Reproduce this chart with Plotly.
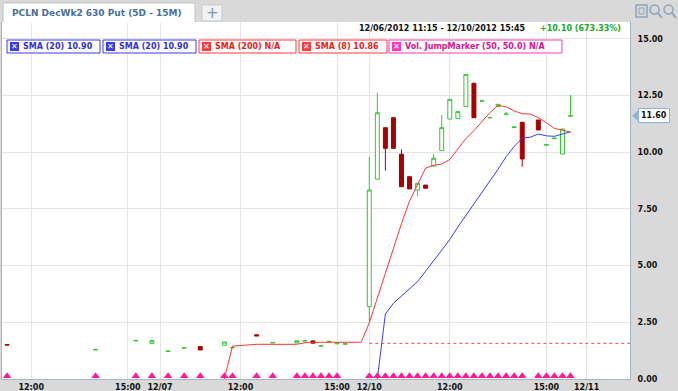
import plotly.graph_objects as go

# ---------------- data (bar index: 0 = 12/10 09:30, one unit = one 15-minute bar) ----------------
bar_x = [-45, -34, -29, -27, -25, -23, -21, -18, -17, -14, -12, -9, -8, -7, -6, -5, -4, -3,
         0, 1, 2, 3, 4, 5, 6, 7, 8, 9, 10, 11, 12, 13, 14, 15, 16, 17, 18, 19, 21, 22, 23, 24, 25]
opens = [1.52, 1.28, 1.68, 1.57, 1.21, 1.36, 1.43, 1.49, 1.37, 1.95, 1.59, 1.59, 1.67, 1.68, 1.45, 1.64, 1.55, 1.53,
         3.19, 8.81, 11.08, 11.52, 9.91, 8.92, 8.33, 8.55, 9.39, 10.07, 11.46, 11.49, 12.01, 13.04, 12.25, 11.51,
         12.01, 11.66, 11.09, 11.32, 11.42, 10.31, 10.60, 9.92, 11.59]
highs = [1.52, 1.30, 1.70, 1.69, 1.23, 1.38, 1.43, 1.63, 1.39, 1.95, 1.61, 1.69, 1.69, 1.68, 1.47, 1.66, 1.58, 1.56,
         9.80, 12.62, 11.08, 11.52, 10.13, 8.92, 8.63, 8.55, 9.92, 11.64, 12.33, 11.79, 13.43, 13.04, 12.27, 11.53,
         12.11, 11.78, 11.11, 11.32, 11.42, 10.33, 10.62, 11.02, 12.52]
lows = [1.50, 1.28, 1.68, 1.57, 1.21, 1.36, 1.28, 1.49, 1.37, 1.90, 1.59, 1.59, 1.67, 1.58, 1.45, 1.64, 1.55, 1.53,
        2.53, 8.81, 9.19, 10.17, 8.48, 8.38, 8.07, 8.41, 9.39, 10.07, 11.46, 11.49, 12.01, 11.52, 12.25, 11.51,
        12.01, 11.66, 11.09, 9.36, 10.98, 10.31, 10.60, 9.92, 11.59]
closes = [1.50, 1.30, 1.70, 1.69, 1.23, 1.38, 1.28, 1.63, 1.39, 1.90, 1.61, 1.69, 1.69, 1.58, 1.47, 1.66, 1.58, 1.56,
          8.33, 11.74, 10.17, 10.17, 8.48, 8.38, 8.63, 8.41, 9.73, 11.08, 12.33, 11.79, 13.43, 11.52, 12.27, 11.53,
          12.11, 11.68, 11.11, 9.70, 10.98, 10.33, 10.62, 11.02, 11.61]

sma8_x = [-18, -17, -14, -12, -9, -8, -7, -6, -5, -4, -3, -2, -1,
          0, 1, 2, 3, 4, 5, 6, 7, 8, 9, 10, 11, 12, 13, 14, 15, 16, 17, 18, 19, 20, 21, 22, 23, 24, 25]
sma8_y = [0.0, 1.45, 1.53, 1.53, 1.53, 1.60, 1.62, 1.62, 1.62, 1.62, 1.62, 1.62, 1.62,
          2.48, 3.60, 4.70, 5.80, 6.85, 7.85, 8.60, 9.30, 9.42, 9.48, 9.68, 10.15, 10.60, 10.95, 11.35, 11.75,
          12.06, 12.00, 11.82, 11.70, 11.68, 11.52, 11.30, 11.05, 10.97, 10.88]

sma20_x = [1, 2, 3, 4, 5, 6, 7, 8, 9, 10, 11, 12, 13, 14, 15, 16, 17, 18, 19, 20, 21, 22, 23, 24, 25]
sma20_y = [0.0, 2.87, 3.34, 3.65, 3.95, 4.30, 4.75, 5.20, 5.65, 6.15, 6.70, 7.20, 7.70, 8.20, 8.75,
           9.25, 9.80, 10.25, 10.62, 10.66, 10.80, 10.72, 10.70, 10.80, 10.90]

jump_x = [-45, -34, -29, -27, -25, -23, -21, -18, -17, -14, -12, -9, -8, -7, -6, -5, -4,
          0, 1, 2, 3, 4, 5, 6, 7, 8, 9, 10, 11, 12, 13, 14, 15, 16, 17, 18, 19, 21, 22, 23, 24, 25]

ref_level = 1.57
ref_x = [0, 32.4]

x_tickvals = [-42, -30, -26, -16, -4, 0, 10, 22, 27]
x_ticktext = ["12:00", "15:00", "12/07", "12:00", "15:00", "12/10", "12:00", "15:00", "12/11"]
y_tickvals = [0, 2.5, 5, 7.5, 10, 12.5, 15]
y_ticktext = ["0.00", "2.50", "5.00", "7.50", "10.00", "12.50", "15.00"]

last_price = 11.60

# ---------------- figure ----------------
W, H = 678, 391
ML, MR, MT, MB = 2, 48, 22, 12
XMIN, XMAX = -45.63, 32.39
YMIN, YMAX = 0.0, 15.74
FONT = "DejaVu Sans"


def px(x):
    return (x - ML) / (W - ML - MR)


def py(y):
    return (H - MB - y) / (H - MT - MB)


fig = go.Figure()

fig.add_trace(go.Candlestick(
    x=bar_x, open=opens, high=highs, low=lows, close=closes,
    increasing=dict(line=dict(color="#2ecc2e", width=1), fillcolor="white"),
    decreasing=dict(line=dict(color="#a80000", width=1), fillcolor="#a80000"),
    whiskerwidth=0, showlegend=False, hoverinfo="skip"))

fig.add_trace(go.Scatter(x=ref_x, y=[ref_level, ref_level], mode="lines",
                         line=dict(color="#ff4a4a", width=1, dash="dot"), showlegend=False, hoverinfo="skip"))
fig.add_trace(go.Scatter(x=sma8_x, y=sma8_y, mode="lines",
                         line=dict(color="#ff3535", width=1), showlegend=False, hoverinfo="skip"))
fig.add_trace(go.Scatter(x=sma20_x, y=sma20_y, mode="lines",
                         line=dict(color="#3a3aff", width=1), showlegend=False, hoverinfo="skip"))
fig.add_trace(go.Scatter(x=jump_x, y=[0.13] * len(jump_x), mode="markers",
                         marker=dict(symbol="triangle-up", size=7.5, color="#ff1a9c", line=dict(width=0)),
                         cliponaxis=False, showlegend=False, hoverinfo="skip"))

shapes = []
annotations = []

# tab
shapes.append(dict(type="rect", xref="paper", yref="paper", x0=px(3), x1=px(195), y0=py(23), y1=py(3),
                   fillcolor="white", line=dict(width=0), layer="above"))
shapes.append(dict(type="path", xref="paper", yref="paper",
                   path=f"M {px(3)},{py(22)} L {px(3)},{py(3)} L {px(195)},{py(3)} L {px(195)},{py(22)}",
                   line=dict(color="#b9c3cd", width=1), layer="above"))
annotations.append(dict(xref="paper", yref="paper", x=px(10), y=py(12.5), xanchor="left", yanchor="middle",
                        text="PCLN DecWk2 630 Put (5D - 15M)", showarrow=False,
                        font=dict(family=FONT, size=9, color="#46709c", weight="bold")))
shapes.append(dict(type="rect", xref="paper", yref="paper", x0=px(202), x1=px(222), y0=py(21), y1=py(5),
                   fillcolor="#f2f2f2", line=dict(color="#c3cbd3", width=1), layer="above"))
annotations.append(dict(xref="paper", yref="paper", x=px(212), y=py(13), xanchor="center", yanchor="middle",
                        text="+", showarrow=False, font=dict(family=FONT, size=15, color="#8197ad")))

# header
annotations.append(dict(xref="paper", yref="paper", x=px(357), y=py(28.5), xanchor="left", yanchor="middle",
                        text="12/06/2012 11:15 - 12/10/2012 15:45", showarrow=False,
                        font=dict(family=FONT, size=8, color="#111111", weight="bold")))
annotations.append(dict(xref="paper", yref="paper", x=px(538), y=py(28.5), xanchor="left", yanchor="middle",
                        text="+10.10 (673.33%)", showarrow=False,
                        font=dict(family=FONT, size=8, color="#22aa22", weight="bold")))

# indicator legend boxes
legend_items = [
    (7, 100, "SMA (20) 10.90", "#3a3aee", "#2f2fd0"),
    (103, 196, "SMA (20) 10.90", "#3a3aee", "#2f2fd0"),
    (199, 296, "SMA (200) N/A", "#ff3a3a", "#e82020"),
    (299, 387, "SMA (8) 10.86", "#ff3a3a", "#e82020"),
    (389, 562, "Vol. JumpMarker (50, 50.0) N/A", "#ff3ab8", "#e01090"),
]
for x0, x1, label, border, tcol in legend_items:
    shapes.append(dict(type="rect", xref="paper", yref="paper", x0=px(x0), x1=px(x1), y0=py(53), y1=py(40),
                       fillcolor="white", line=dict(color=border, width=1), layer="above"))
    shapes.append(dict(type="rect", xref="paper", yref="paper", x0=px(x0 + 3), x1=px(x0 + 12), y0=py(51), y1=py(42),
                       fillcolor=border, line=dict(width=0), layer="above"))
    annotations.append(dict(xref="paper", yref="paper", x=px(x0 + 7.5), y=py(46.5), xanchor="center",
                            yanchor="middle", text="✕", showarrow=False,
                            font=dict(family=FONT, size=8, color="white", weight="bold")))
    annotations.append(dict(xref="paper", yref="paper", x=px(x0 + 14), y=py(46.5), xanchor="left",
                            yanchor="middle", text=label, showarrow=False,
                            font=dict(family=FONT, size=8, color=tcol, weight="bold")))

# last price tag
shapes.append(dict(type="path", xref="paper", yref="paper",
                   path=f"M {px(632)},{py(115.7)} L {px(638)},{py(110.5)} L {px(638)},{py(121)} Z",
                   fillcolor="#8fb3d9", line=dict(width=0), layer="above"))
annotations.append(dict(xref="paper", yref="y", x=px(638), y=last_price, xanchor="left", yanchor="middle",
                        text="11.60", showarrow=False, bgcolor="white", bordercolor="#8fb3d9", borderwidth=1,
                        borderpad=2, font=dict(family=FONT, size=8, color="#111111", weight="bold")))

# zoom icons
shapes.append(dict(type="rect", xref="paper", yref="paper", x0=px(636), x1=px(647), y0=py(17), y1=py(5),
                   line=dict(color="#8aa3bd", width=1.5), fillcolor="rgba(0,0,0,0)"))
shapes.append(dict(type="rect", xref="paper", yref="paper", x0=px(639), x1=px(644), y0=py(14), y1=py(8),
                   line=dict(color="#8aa3bd", width=1), fillcolor="rgba(0,0,0,0)"))
for cx in (650, 664):
    shapes.append(dict(type="circle", xref="paper", yref="paper", x0=px(cx), x1=px(cx + 9), y0=py(14), y1=py(5),
                       line=dict(color="#8aa3bd", width=1.5), fillcolor="rgba(0,0,0,0)"))
    shapes.append(dict(type="line", xref="paper", yref="paper", x0=px(cx + 8), x1=px(cx + 12), y0=py(13),
                       y1=py(18), line=dict(color="#8aa3bd", width=2)))

fig.update_layout(
    width=W, height=H,
    margin=dict(l=ML, r=MR, t=MT, b=MB, pad=0, autoexpand=False),
    paper_bgcolor="#d9d9d9", plot_bgcolor="white",
    shapes=shapes, annotations=annotations,
    showlegend=False,
    xaxis=dict(range=[XMIN, XMAX], tickvals=x_tickvals, ticktext=x_ticktext, showgrid=True,
               gridcolor="#e4e4e4", gridwidth=1, zeroline=False, showline=True, linecolor="#a7b6c6",
               linewidth=1, ticks="", rangeslider=dict(visible=False), fixedrange=True, automargin=False,
               tickfont=dict(family=FONT, size=8, color="#111111", weight="bold"), ticklabelstandoff=0),
    yaxis=dict(range=[YMIN, YMAX], side="right", tickvals=y_tickvals, ticktext=y_ticktext, showgrid=True,
               gridcolor="#e4e4e4", gridwidth=1, zeroline=False, showline=True, mirror=True,
               linecolor="#a7b6c6", linewidth=1, ticks="", fixedrange=True, ticklabelstandoff=5,
               automargin=False,
               tickfont=dict(family=FONT, size=8, color="#111111", weight="bold")),
)

fig.write_html("out.html")
